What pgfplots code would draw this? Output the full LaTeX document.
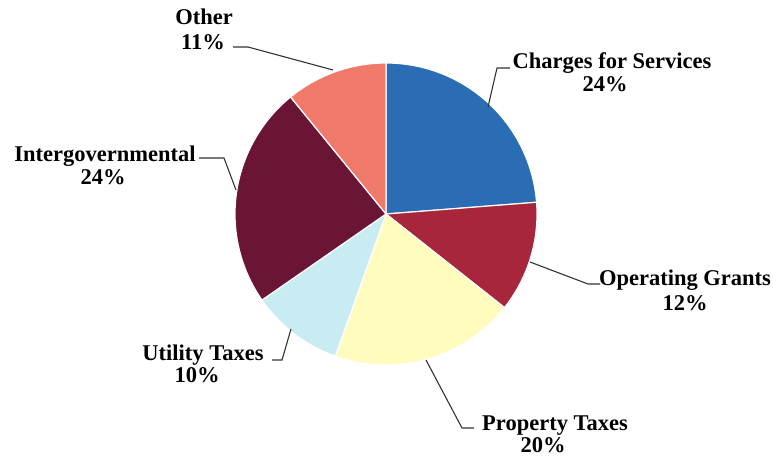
\documentclass[border=0pt]{standalone}
\usepackage{pgfplots}
\pgfplotsset{compat=1.18}
\usepackage{fontspec}
\setmainfont{Liberation Serif}
\definecolor{cCharges}{RGB}{42,109,181}
\definecolor{cOper}{RGB}{168,38,60}
\definecolor{cProp}{RGB}{255,252,190}
\definecolor{cUtil}{RGB}{200,236,242}
\definecolor{cInter}{RGB}{106,21,53}
\definecolor{cOther}{RGB}{240,122,106}
\definecolor{leader}{RGB}{50,50,50}
% slice values (percent)
\def\vA{24}% Charges for Services
\def\vB{12}% Operating Grants
\def\vC{20}% Property Taxes
\def\vD{10}% Utility Taxes
\def\vE{24}% Intergovernmental
\def\vF{11}% Other
\begin{document}
\begin{tikzpicture}
\pgfmathsetmacro{\tot}{\vA+\vB+\vC+\vD+\vE+\vF}
\pgfmathsetmacro{\aA}{90}
\pgfmathsetmacro{\aB}{\aA-360*\vA/\tot}
\pgfmathsetmacro{\aC}{\aB-360*\vB/\tot}
\pgfmathsetmacro{\aD}{\aC-360*\vC/\tot}
\pgfmathsetmacro{\aE}{\aD-360*\vD/\tot}
\pgfmathsetmacro{\aF}{\aE-360*\vE/\tot}
\pgfmathsetmacro{\aG}{\aF-360*\vF/\tot}
\begin{axis}[
  width=773bp, height=459bp, scale only axis,
  xmin=0, xmax=773, ymin=0, ymax=459,
  hide axis, clip=false,
  every axis plot/.append style={draw=white, line width=1.2pt, samples=80, variable=\t},
]
\addplot[fill=cCharges, domain=\aB:\aA] ({386+151*cos(t)},{245+151*sin(t)}) -- (386,245) -- cycle;
\addplot[fill=cOper, domain=\aC:\aB] ({386+151*cos(t)},{245+151*sin(t)}) -- (386,245) -- cycle;
\addplot[fill=cProp, domain=\aD:\aC] ({386+151*cos(t)},{245+151*sin(t)}) -- (386,245) -- cycle;
\addplot[fill=cUtil, domain=\aE:\aD] ({386+151*cos(t)},{245+151*sin(t)}) -- (386,245) -- cycle;
\addplot[fill=cInter, domain=\aF:\aE] ({386+151*cos(t)},{245+151*sin(t)}) -- (386,245) -- cycle;
\addplot[fill=cOther, domain=\aG:\aF] ({386+151*cos(t)},{245+151*sin(t)}) -- (386,245) -- cycle;
% leader lines
\draw[leader, line width=1.1pt] (488,352) -- (497,391) -- (510,391);
\draw[leader, line width=1.1pt] (530,197) -- (588,175) -- (600,175);
\draw[leader, line width=1.1pt] (426,99) -- (462,31) -- (474,31);
\draw[leader, line width=1.1pt] (272,99) -- (282,99) -- (291,130);
\draw[leader, line width=1.1pt] (199,301) -- (224,301) -- (236,269);
\draw[leader, line width=1.1pt] (233,412) -- (248,412) -- (333,389);
% labels
\begin{scope}[every node/.style={font=\fontsize{22.5bp}{24bp}\selectfont\bfseries, inner sep=0pt, anchor=base, text=black}]
\node at (612,390) {Charges for Services};
\node at (605,367) {24\%};
\node at (685,173) {Operating Grants};
\node at (685,148) {12\%};
\node at (555,29) {Property Taxes};
\node at (543,7) {20\%};
\node at (203,98) {Utility Taxes};
\node at (197,76) {10\%};
\node at (105,297) {Intergovernmental};
\node at (103,274) {24\%};
\node at (204,434) {Other};
\node at (203,409) {11\%};
\end{scope}
\path (0,0) rectangle (773,459);
\end{axis}
\end{tikzpicture}
\end{document}
